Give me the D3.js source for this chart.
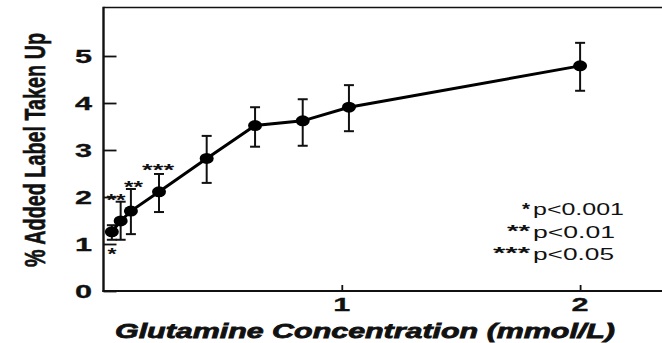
<!DOCTYPE html>
<html><head><meta charset="utf-8">
<script src="https://cdn.jsdelivr.net/npm/d3@7"></script>
<style>body{margin:0;background:#fff}svg{display:block}</style>
</head><body>
<svg id="c" width="662" height="343"></svg>
<script>
const concentrations = [0.035, 0.072, 0.115, 0.233, 0.433, 0.636, 0.836, 1.03, 2.0];
const uptake =        [1.26, 1.49, 1.70, 2.11, 2.82, 3.52, 3.62, 3.91, 4.79];
const errUpper =      [1.40, 1.90, 2.17, 2.49, 3.30, 3.91, 4.08, 4.38, 5.28];
const errLower =      [1.09, 1.09, 1.21, 1.68, 2.30, 3.07, 3.09, 3.40, 4.26];
const yTicks = [0, 1, 2, 3, 4, 5];
const xTicks = [1, 2];
const starMarks = [
  {x: 0.036, y: 0.87, text: "*"},
  {x: 0.052, y: 2.03, text: "**"},
  {x: 0.126, y: 2.30, text: "**"},
  {x: 0.229, y: 2.66, text: "***"}
];
const legendStars = ["*", "**", "***"];
const legendText = ["p<0.001", "p<0.01", "p<0.05"];

const svg = d3.select("#c");
const x = d3.scaleLinear().domain([0, 2.35]).range([103.5, 663.5]);
const y = d3.scaleLinear().domain([0, 5]).range([291, 56]);
const font = "'Liberation Sans', Arial, Helvetica, sans-serif";
const SX = 1.6; // horizontal stretch of the original figure

function stext(g, px, py, str, size, opts = {}) {
  const t = g.append("text")
    .attr("transform", `translate(${px},${py}) scale(${opts.sx || SX},1)`)
    .attr("x", 0).attr("y", 0)
    .attr("text-anchor", opts.anchor || "start")
    .attr("font-family", font).attr("font-weight", opts.weight || "bold")
    .attr("font-size", size).attr("fill", "#111").text(str);
  if (opts.len) t.attr("textLength", opts.len / (opts.sx || SX)).attr("lengthAdjust", "spacingAndGlyphs");
  if (opts.stroke) t.attr("stroke", "#111").attr("stroke-width", opts.stroke);
  return t;
}

// frame top line
svg.append("line").attr("x1", 103.5).attr("x2", 662).attr("y1", 7.5).attr("y2", 7.5)
  .attr("stroke", "#111").attr("stroke-width", 1.6);

// y axis
const yAxis = svg.append("g").attr("transform", "translate(103.5,0)")
  .call(d3.axisRight(y).tickValues(yTicks).tickSize(13).tickFormat(""));
yAxis.select(".domain").remove();
yAxis.selectAll(".tick line").attr("stroke", "#111").attr("stroke-width", 1.8);
svg.append("line").attr("x1", 103.5).attr("x2", 103.5).attr("y1", 6.7).attr("y2", 292)
  .attr("stroke", "#111").attr("stroke-width", 2.4);
const yl = svg.append("g");
yTicks.forEach(d => stext(yl, 92, y(d) + 6.5, String(d), 18, {anchor: "end", sx: 1.7, stroke: 0.3}));

// x axis
const xAxis = svg.append("g").attr("transform", "translate(0,291)")
  .call(d3.axisTop(x).tickValues(xTicks).tickSize(6).tickFormat(""));
xAxis.select(".domain").remove();
xAxis.selectAll(".tick line").attr("stroke", "#111").attr("stroke-width", 1.8);
svg.append("line").attr("x1", 102.5).attr("x2", 662).attr("y1", 291).attr("y2", 291)
  .attr("stroke", "#111").attr("stroke-width", 2.2);
const xl = svg.append("g");
xTicks.forEach(d => stext(xl, x(d), 311, String(d), 18, {anchor: "middle", sx: 1.7, stroke: 0.3}));

// axis titles
svg.append("text").attr("x", 365).attr("y", 338).attr("text-anchor", "middle")
  .attr("font-family", font).attr("font-weight", "bold").attr("font-style", "italic")
  .attr("font-size", 21).attr("fill", "#111").attr("stroke", "#111").attr("stroke-width", 0.8)
  .attr("textLength", 500).attr("lengthAdjust", "spacingAndGlyphs")
  .text("Glutamine Concentration (mmol/L)");
svg.append("text").attr("transform", `translate(45,150) scale(${SX},1) rotate(-90)`)
  .attr("text-anchor", "middle")
  .attr("font-family", font).attr("font-weight", "bold")
  .attr("font-size", 19).attr("fill", "#111").attr("stroke", "#111").attr("stroke-width", 0.4)
  .attr("textLength", 234).attr("lengthAdjust", "spacingAndGlyphs")
  .text("% Added Label Taken Up");

const data = concentrations.map((c, i) => ({c, v: uptake[i], hi: errUpper[i], lo: errLower[i]}));

// error bars
const eb = svg.append("g").attr("stroke", "#111").attr("stroke-width", 2);
eb.selectAll(".v").data(data).join("line").attr("class", "v")
  .attr("x1", d => x(d.c)).attr("x2", d => x(d.c)).attr("y1", d => y(d.hi)).attr("y2", d => y(d.lo));
eb.selectAll(".t").data(data).join("line").attr("class", "t")
  .attr("x1", d => x(d.c) - 5).attr("x2", d => x(d.c) + 5).attr("y1", d => y(d.hi)).attr("y2", d => y(d.hi));
eb.selectAll(".b").data(data).join("line").attr("class", "b")
  .attr("x1", d => x(d.c) - 5).attr("x2", d => x(d.c) + 5).attr("y1", d => y(d.lo)).attr("y2", d => y(d.lo));

// line
svg.append("path").datum(data)
  .attr("d", d3.line().x(d => x(d.c)).y(d => y(d.v)))
  .attr("fill", "none").attr("stroke", "#000").attr("stroke-width", 3);

// points
svg.append("g").selectAll("ellipse").data(data).join("ellipse")
  .attr("cx", d => x(d.c)).attr("cy", d => y(d.v)).attr("rx", 7).attr("ry", 5.5).attr("fill", "#000");

// significance stars
const sg = svg.append("g");
const starW = {"*": 9, "**": 19, "***": 32};
starMarks.forEach(d => stext(sg, x(d.x), y(d.y) + 10, d.text, 17,
  {anchor: "middle", len: starW[d.text]}));

// legend
const lg = svg.append("g");
const lStarW = [8, 23, 37];
legendStars.forEach((s, i) => stext(lg, 530, 215 + i * 22, s, 17, {anchor: "end", len: lStarW[i]}));
const lTextW = [91, 82, 81];
legendText.forEach((s, i) => stext(lg, 533, 215 + i * 22.5, s, 17,
  {weight: "normal", len: lTextW[i], sx: 1.4}));
</script>
</body></html>
